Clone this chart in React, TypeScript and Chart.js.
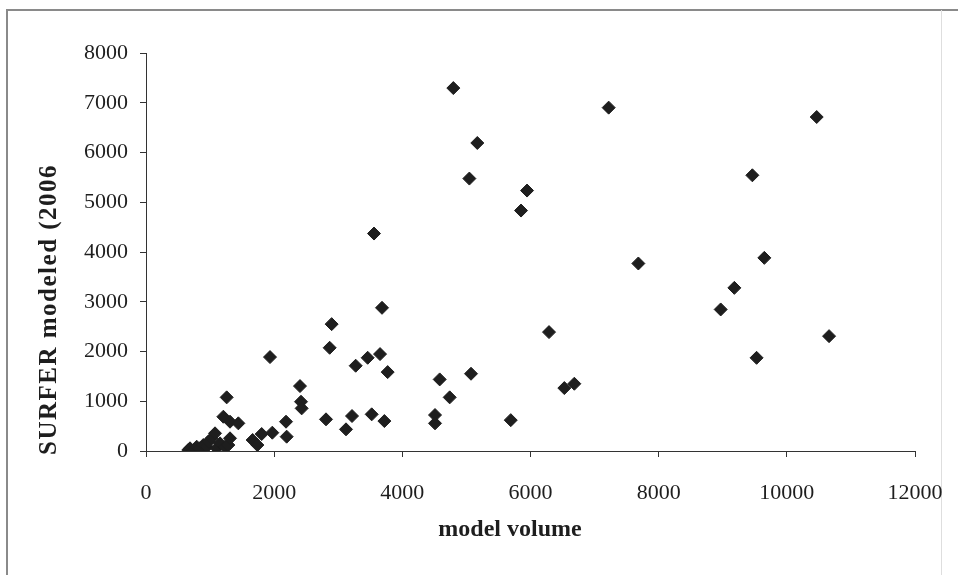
import React, { useEffect, useRef } from "react";
import { Chart, registerables } from "chart.js";

Chart.register(...registerables);

const xValues: number[] = [
  660, 687, 738, 791, 843, 894, 947, 973, 1025, 1077, 1103, 1155, 1207, 1233, 1259, 1285, 1311, 1311, 1441,
  1664, 1738, 1805, 1971, 1935, 2185, 2195, 2403, 2419, 2429,
  2809, 3121, 3215, 3522, 3720, 4510, 4510, 4583, 4739, 5072, 5692, 2866, 2897, 3272, 3459, 3652, 3683, 3771,
  3558, 4796, 5170, 5046, 5946, 5852, 6289, 6528, 6684, 7220, 7683, 8968, 9181, 9462, 9528, 9649, 10466, 10659,
];
const yValues: number[] = [
  20, 54, 6, 86, 54, 120, 86, 187, 255, 355, 54, 154, 689, 86, 1078, 120, 589, 255, 556,
  221, 120, 341, 368, 1888, 589, 288, 1305, 990, 857,
  636, 435, 703, 737, 602, 723, 556, 1439, 1078, 1553, 620, 2075, 2550, 1714, 1874, 1948, 2878, 1586,
  4371, 7295, 6191, 5476, 5235, 4833, 2390, 1265, 1352, 6902, 3769, 2845, 3279, 5542, 1873, 3882, 6713, 2309,
];
const xTicks: number[] = [0, 2000, 4000, 6000, 8000, 10000, 12000];
const yTicks: number[] = [0, 1000, 2000, 3000, 4000, 5000, 6000, 7000, 8000];
const xTitle = "model volume";
const yTitle = "SURFER modeled (2006";

const FONT = "'Liberation Serif', 'Times New Roman', serif";
const INK = "#1e1e1e";

const decorPlugin = {
  id: "decor",
  beforeDraw(chart: any) {
    const ctx = chart.ctx;
    ctx.save();
    ctx.fillStyle = "#ffffff";
    ctx.fillRect(0, 0, chart.width, chart.height);
    ctx.strokeStyle = "#8a8a8a";
    ctx.lineWidth = 2;
    ctx.beginPath();
    ctx.moveTo(7, 600);
    ctx.lineTo(7, 10);
    ctx.lineTo(958, 10);
    ctx.stroke();
    ctx.strokeStyle = "#dedede";
    ctx.lineWidth = 1;
    ctx.beginPath();
    ctx.moveTo(941.5, 10);
    ctx.lineTo(941.5, 600);
    ctx.stroke();
    ctx.restore();
  },
  afterDraw(chart: any) {
    const ctx = chart.ctx;
    const a = chart.chartArea;
    ctx.save();
    ctx.fillStyle = INK;
    ctx.font = `bold 24px ${FONT}`;
    ctx.textAlign = "center";
    ctx.textBaseline = "middle";
    ctx.fillText(xTitle, a.left + 364, a.bottom + 79);
    ctx.font = `bold 25px ${FONT}`;
    ctx.translate(a.left - 96, a.bottom + 4);
    ctx.rotate(-Math.PI / 2);
    ctx.textAlign = "left";
    (ctx as any).letterSpacing = "1.5px";
    ctx.fillText(yTitle, 0, 0);
    ctx.restore();
  },
};

export default function App() {
  const ref = useRef<HTMLCanvasElement | null>(null);
  useEffect(() => {
    if (!ref.current) return;
    const data = xValues.map((x, i) => ({ x, y: yValues[i] }));
    const chart = new Chart(ref.current, {
      type: "scatter",
      data: {
        datasets: [
          {
            data,
            pointStyle: "rectRot",
            pointRadius: 6.5,
            pointBackgroundColor: INK,
            pointBorderColor: INK,
            pointBorderWidth: 1,
          },
        ],
      },
      options: {
        animation: false,
        responsive: false,
        layout: { padding: { left: 0, right: 43, top: 53, bottom: 0 } },
        plugins: { legend: { display: false }, tooltip: { enabled: false } },
        scales: {
          x: {
            type: "linear",
            min: 0,
            max: 12000,
            afterBuildTicks: (s: any) => {
              s.ticks = xTicks.map((v) => ({ value: v }));
            },
            afterFit: (s: any) => {
              s.height = 124;
              s.paddingLeft = 0;
              s.paddingRight = 0;
            },
            grid: { drawOnChartArea: false, drawTicks: true, tickLength: 6, color: "#333" },
            border: { display: true, color: "#333", width: 1 },
            ticks: {
              color: INK,
              font: { family: FONT, size: 22 },
              padding: 23,
              maxRotation: 0,
              callback: (v: any) => String(v),
            },
          },
          y: {
            type: "linear",
            min: 0,
            max: 8000,
            afterBuildTicks: (s: any) => {
              s.ticks = yTicks.map((v) => ({ value: v }));
            },
            afterFit: (s: any) => {
              s.width = 146;
              s.paddingTop = 0;
              s.paddingBottom = 0;
            },
            grid: { drawOnChartArea: false, drawTicks: true, tickLength: 6, color: "#333" },
            border: { display: true, color: "#333", width: 1 },
            ticks: {
              color: INK,
              font: { family: FONT, size: 22 },
              padding: 12,
              callback: (v: any) => String(v),
            },
          },
        },
      },
      plugins: [decorPlugin],
    });
    return () => chart.destroy();
  }, []);
  return (
    <div style={{ position: "fixed", left: 0, top: 0, width: 958, height: 575, background: "#fff" }}>
      <canvas ref={ref} width={958} height={575} style={{ display: "block", width: 958, height: 575 }} />
    </div>
  );
}
